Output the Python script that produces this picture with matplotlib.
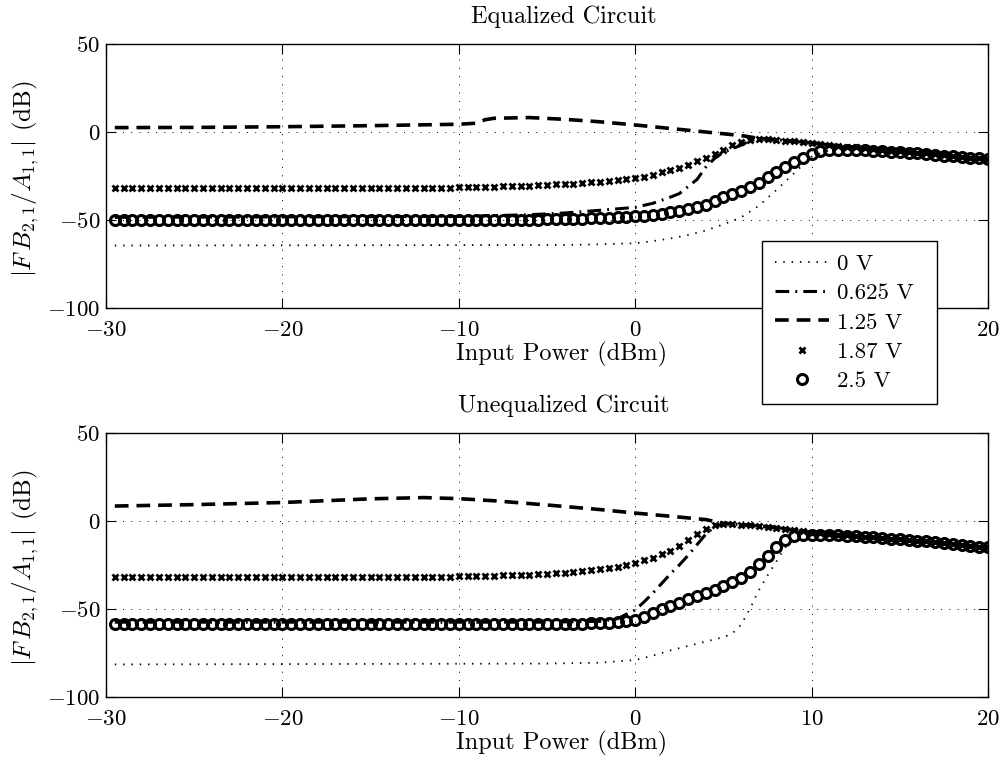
import numpy as np
import matplotlib
matplotlib.use("Agg")
import matplotlib.pyplot as plt
from matplotlib.ticker import FuncFormatter

plt.rcParams["font.family"] = ["cmr10", "DejaVu Serif"]
plt.rcParams["mathtext.fontset"] = "cm"
plt.rcParams["axes.formatter.use_mathtext"] = True

# input power grid for the marker series (dBm)
x_pts = np.arange(-29.5, 20.25, 0.5)

# ---- Equalized circuit ----
x_eq_0v = [-29.5, -4, -2, 0, 1, 2, 3, 4, 5, 6, 7, 8, 9, 10, 11, 12, 14, 16, 18, 20]
y_eq_0v = [-64.5, -64.2, -63.8, -63.2, -62, -60.5, -58.5, -56, -52.5, -48.5, -42, -33,
           -23.5, -14, -10.3, -10.1, -10.9, -12.2, -13.8, -15.4]

x_eq_0625 = [-29.5, -10, -6, -4, -2, 0, 1, 2, 2.5, 3, 3.5, 4, 4.5, 5, 5.5, 6, 6.5, 7, 8,
             10, 12, 14, 16, 18, 20]
y_eq_0625 = [-48.5, -48, -47, -46, -44.5, -42.8, -40.5, -37, -35, -31, -27, -20, -15,
             -11.5, -9.5, -7.5, -5, -3.8, -4.4, -6.2, -8.3, -10.2, -11.8, -13.6, -15.4]

x_eq_125 = [-29.5, -25, -20, -15, -10, -9, -8.5, -8, -6, -4, -2, 0, 2, 4, 6, 7, 8, 10,
            12, 14, 16, 18, 20]
y_eq_125 = [2.5, 2.6, 3.0, 3.6, 4.4, 5.0, 7.0, 7.8, 8.2, 7.2, 5.8, 4.0, 2.0, 0.0, -2.0,
            -3.6, -4.5, -6.2, -8.3, -10.2, -11.8, -13.6, -15.4]

y_eq_187 = [-32.0] * 39 + [
    -31.5, -31.4, -31.3, -31.1, -31.0, -30.8, -30.7, -30.5, -30.4, -30.2,
    -30.0, -29.8, -29.6, -29.3, -29.0, -28.6, -28.2, -27.8, -27.3, -26.8,
    -26.3, -25.3, -24.2, -23.0, -21.7, -20.2, -18.6, -16.5, -14.5, -12.4,
    -10.2, -7.6, -5.6, -4.5, -4.0, -4.1, -4.5, -4.9, -5.3, -5.8,
    -6.2, -6.8, -7.3, -7.8, -8.3, -8.8, -9.3, -9.7, -10.2, -10.6,
    -11.0, -11.4, -11.8, -12.2, -12.7, -13.1, -13.6, -14.0, -14.5, -15.0, -15.4]

y_eq_25 = [-50.0] * 47 + [
    -49.9, -49.8, -49.7, -49.6, -49.5, -49.4, -49.2, -49.0, -48.8, -48.6,
    -48.4, -48.2, -48.0, -47.5, -47.0, -46.4, -45.7, -45.0, -44.0, -42.8,
    -41.2, -39.2, -37.2, -35.2, -33.4, -31.2, -28.8, -25.8, -22.8, -20.0,
    -17.2, -14.8, -12.6, -11.0, -10.3, -10.1, -10.1, -10.2, -10.4, -10.6,
    -10.9, -11.2, -11.5, -11.9, -12.2, -12.6, -13.0, -13.4, -13.8, -14.2,
    -14.6, -15.0, -15.4]

# ---- Unequalized circuit ----
x_un_0v = [-29.5, -5, -2, 0, 1, 2, 3, 4, 5, 5.5, 6, 6.5, 7, 7.5, 8, 8.5, 9, 9.5, 10,
           11, 12, 14, 16, 18, 20]
y_un_0v = [-81.5, -81, -80.5, -79, -76.5, -73.5, -71, -68.5, -66, -64, -59, -50, -39.5,
           -31, -23, -15, -10.5, -8.5, -7.8, -8.0, -8.4, -9.6, -11.2, -13.0, -15.0]

x_un_0625 = [-29.5, -5, -2, -1, -0.5, 0, 0.5, 1, 1.5, 2, 2.5, 3, 3.5, 4, 4.5, 5, 6, 8,
             10, 12, 14, 16, 18, 20]
y_un_0625 = [-57.5, -57.5, -57, -55.5, -53, -50.6, -46, -41, -35.5, -30, -25, -19.5,
             -13.5, -7.5, -3.2, -1.6, -2.0, -3.7, -6.6, -8.2, -9.6, -11.2, -13.0, -15.0]

x_un_125 = [-29.5, -25, -20, -15, -12, -10, -8, -5, -2, 0, 2, 4, 5, 6, 8, 10, 12, 14,
            16, 18, 20]
y_un_125 = [8.5, 9.3, 10.5, 12.6, 13.3, 12.7, 11.5, 9.1, 6.5, 4.5, 2.7, 0.8, -1.3, -2.0,
            -3.7, -6.6, -8.2, -9.6, -11.2, -13.0, -15.0]

y_un_187 = [-31.8] * 39 + [
    -31.5, -31.4, -31.3, -31.2, -31.0, -30.9, -30.8, -30.6, -30.5, -30.3,
    -30.1, -29.7, -29.3, -28.9, -28.5, -27.9, -27.3, -26.7, -26.0, -25.0,
    -23.6, -22.3, -20.8, -19.0, -16.8, -14.0, -10.8, -7.4, -4.4, -2.4,
    -1.6, -1.6, -2.0, -2.4, -2.8, -3.2, -3.7, -4.4, -5.2, -5.9,
    -6.6, -7.0, -7.4, -7.8, -8.2, -8.6, -9.0, -9.3, -9.6, -10.0,
    -10.4, -10.8, -11.2, -11.6, -12.1, -12.5, -13.0, -13.5, -14.0, -14.5, -15.0]

y_un_25 = [-58.5] * 47 + [
    -58.5, -58.5, -58.5, -58.5, -58.4, -58.4, -58.3, -58.2, -58.1, -58.0,
    -57.6, -57.0, -56.2, -54.3, -52.2, -50.2, -48.3, -46.4, -44.6, -42.8,
    -41.0, -39.0, -37.0, -34.8, -32.2, -28.8, -24.6, -19.8, -15.0, -10.8,
    -8.6, -8.0, -7.8, -7.9, -8.0, -8.2, -8.4, -8.7, -9.0, -9.3,
    -9.6, -10.0, -10.4, -10.8, -11.2, -11.6, -12.1, -12.5, -13.0, -13.5,
    -14.0, -14.5, -15.0]

labels = ["0 V", "0.625 V", "1.25 V", "1.87 V", "2.5 V"]
xticks = [-30, -20, -10, 0, 10, 20]
yticks = [-100, -50, 0, 50]

panels = [
    ("Equalized Circuit", (x_eq_0v, y_eq_0v), (x_eq_0625, y_eq_0625),
     (x_eq_125, y_eq_125), y_eq_187, y_eq_25),
    ("Unequalized Circuit", (x_un_0v, y_un_0v), (x_un_0625, y_un_0625),
     (x_un_125, y_un_125), y_un_187, y_un_25),
]

fig = plt.figure(figsize=(10.05, 7.61), dpi=100)
W, H = 1005, 761
boxes = [(106, 44, 988, 308), (106, 433, 988, 697)]
fs = 16.5
fs_lab = 17.5
mfmt = FuncFormatter(lambda v, p: r"$%d$" % v)

for (title, l0, l1, l2, m3, m4), (x0, y0, x1, y1) in zip(panels, boxes):
    ax = fig.add_axes([x0 / W, 1 - y1 / H, (x1 - x0) / W, (y1 - y0) / H])
    h0, = ax.plot(l0[0], l0[1], color="k", lw=1.3, ls=(0, (0.8, 3.8)))
    h1, = ax.plot(l1[0], l1[1], color="k", lw=2.2, ls=(0, (4.5, 2.0, 0.6, 2.0)))
    h2, = ax.plot(l2[0], l2[1], color="k", lw=2.6, ls=(0, (3.8, 2.2)))
    h3, = ax.plot(x_pts, m3, ls="none", marker="x", ms=4.5, mew=2.0, color="k")
    h4, = ax.plot(x_pts, m4, ls="none", marker="o", ms=7.2, mew=2.2, color="k",
                  mfc="none")
    ax.set_xlim(-30, 20)
    ax.set_ylim(-100, 50)
    ax.set_xticks(xticks)
    ax.set_yticks(yticks)
    ax.xaxis.set_major_formatter(mfmt)
    ax.yaxis.set_major_formatter(mfmt)
    ax.tick_params(direction="in", length=7, width=0.8, top=True, right=True,
                   labelsize=fs)
    ax.tick_params(axis="x", pad=9)
    ax.tick_params(axis="y", pad=4)
    ax.grid(True, color="k", lw=0.7, ls=(0, (1, 7.5)))
    for s in ax.spines.values():
        s.set_linewidth(1.0)
    ax.set_title(title, fontsize=fs_lab, pad=15, x=0.519)
    ax.set_xlabel("Input Power (dBm)", fontsize=fs_lab)
    ax.xaxis.set_label_coords(0.517, -0.128)
    ax.set_ylabel(r"$|F\,B_{2,1}/A_{1,1}|$ (dB)", fontsize=18)
    ax.yaxis.set_label_coords(-0.074, 0.49)
    if title.startswith("Equalized"):
        leg = ax.legend([h0, h1, h2, h3, h4], labels, loc="upper left",
                        bbox_to_anchor=(0.7438, -0.35, 0.1984, 0.6038),
                        mode="expand", borderaxespad=0,
                        fontsize=fs, numpoints=1, handlelength=2.36,
                        handletextpad=0.35, labelspacing=0.41, borderpad=0.55,
                        fancybox=False, framealpha=1, edgecolor="k")
        leg.get_frame().set_linewidth(1.0)

fig.savefig("out.png", dpi=100)
